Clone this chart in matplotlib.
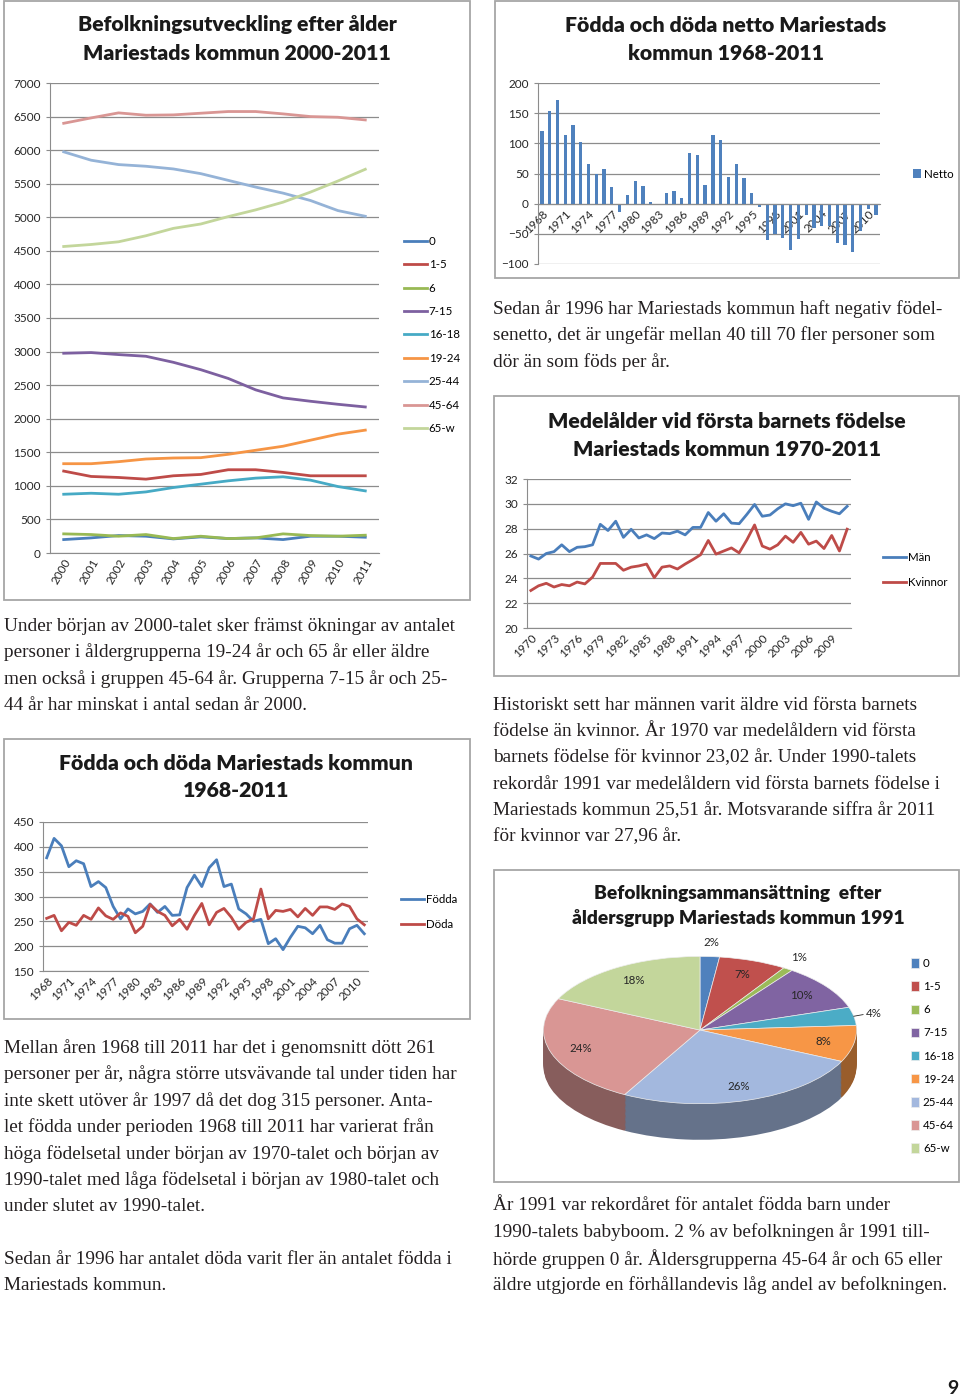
import matplotlib
matplotlib.use("Agg")
import matplotlib.pyplot as plt
from matplotlib.patches import Rectangle
import numpy as np

# --- data -------------------------------------------------------------
AGE_GROUPS = ["0", "1-5", "6", "7-15", "16-18", "19-24", "25-44", "45-64", "65-w"]
AGE_COLORS = ["#4A7EBB", "#BE4B48", "#98B954", "#7D60A0", "#46AAC5",
              "#F69545", "#95B3D7", "#D99694", "#C3D69B"]

years_pop = list(range(2000, 2012))
pop_0 = [200, 225, 260, 250, 210, 240, 215, 225, 200, 250, 250, 235]
pop_1_5 = [1220, 1140, 1125, 1100, 1150, 1170, 1240, 1240, 1200, 1150, 1150, 1150]
pop_6 = [285, 275, 250, 275, 215, 250, 215, 225, 285, 260, 250, 265]
pop_7_15 = [2975, 2985, 2955, 2930, 2840, 2730, 2600, 2430, 2310, 2260, 2215, 2175]
pop_16_18 = [875, 890, 875, 910, 975, 1025, 1075, 1115, 1135, 1085, 990, 925]
pop_19_24 = [1330, 1330, 1360, 1400, 1415, 1420, 1470, 1530, 1590, 1680, 1770, 1830]
pop_25_44 = [5975, 5850, 5785, 5760, 5720, 5650, 5550, 5450, 5360, 5250, 5100, 5015]
pop_45_64 = [6400, 6480, 6555, 6520, 6525, 6550, 6575, 6575, 6540, 6500, 6490, 6450]
pop_65_w = [4565, 4595, 4635, 4725, 4835, 4900, 5010, 5110, 5225, 5375, 5540, 5715]

years_bd = list(range(1968, 2012))
netto = [121, 154, 171, 113, 130, 103, 66, 50, 58, 27, -14, 15, 37, 29, 2, -3,
         18, 21, 9, 84, 81, 31, 114, 106, 44, 65, 42, 18, -5, -61, -50, -57,
         -76, -58, -18, -40, -37, -37, -65, -68, -80, -45, -9, -18]
fodda = [378, 417, 402, 360, 372, 366, 320, 330, 318, 280, 255, 275, 265, 270,
         285, 268, 280, 262, 263, 318, 343, 320, 358, 374, 320, 325, 275, 265,
         250, 254, 205, 215, 193, 218, 240, 237, 225, 242, 213, 206, 206, 235,
         242, 225]
doda = [256, 262, 231, 248, 242, 262, 254, 277, 261, 254, 267, 260, 227, 240,
        284, 270, 262, 241, 254, 234, 262, 286, 243, 268, 276, 258, 234, 248,
        255, 315, 255, 272, 270, 274, 259, 276, 262, 279, 279, 274, 285, 280,
        255, 243]

years_age = list(range(1970, 2012))
man = [25.8, 25.55, 26.0, 26.15, 26.7, 26.15, 26.5, 26.55, 26.7, 28.35, 27.85,
       28.6, 27.3, 27.95, 27.25, 27.5, 27.2, 27.65, 27.6, 27.8, 27.5, 28.1,
       28.1, 29.3, 28.6, 29.2, 28.45, 28.4, 29.15, 29.95, 29.0, 29.1, 29.6,
       30.0, 29.85, 30.05, 28.75, 30.15, 29.65, 29.4, 29.2, 29.8]
kvinnor = [23.02, 23.4, 23.6, 23.3, 23.5, 23.4, 23.7, 23.55, 24.1, 25.2, 25.2,
           25.2, 24.65, 24.9, 25.0, 25.15, 24.05, 24.9, 25.0, 24.75, 25.15,
           25.51, 25.9, 27.05, 25.95, 26.2, 26.45, 26.05, 27.1, 28.3, 26.6,
           26.35, 26.7, 27.4, 26.9, 27.7, 26.75, 27.0, 26.4, 27.45, 26.2, 27.96]

pie_1991 = [2, 7, 1, 10, 4, 8, 26, 24, 18]
PIE_COLORS = ["#4F81BD", "#C0504D", "#9BBB59", "#8064A2", "#4BACC6",
              "#F79646", "#A3B8DE", "#D99694", "#C3D69B"]

# --- page ---------------------------------------------------------------
W, H = 960, 1400
fig = plt.figure(figsize=(W / 100, H / 100), dpi=100)
fig.patch.set_facecolor("white")

SANS = "Lato"
SERIF = "Liberation Serif"
TXT = "#262626"
GRID = "#8c8c8c"
TICK = 8.5


def px_axes(x0, y0, x1, y1):
    return fig.add_axes([x0 / W, 1 - y1 / H, (x1 - x0) / W, (y1 - y0) / H])


def ftext(x, y, s, **kw):
    fig.text(x / W, 1 - y / H, s, **kw)


def frame(x0, y0, x1, y1):
    fig.add_artist(Rectangle((x0 / W, 1 - y1 / H), (x1 - x0) / W, (y1 - y0) / H,
                             transform=fig.transFigure, fill=False,
                             edgecolor="#a6a6a6", lw=1.3))


def title(xc, y1, y2, l1, l2, size=15.3):
    ftext(xc, y1, l1, ha="center", va="center", fontsize=size,
          fontweight="heavy", family=SANS, color="#1a1a1a")
    ftext(xc, y2, l2, ha="center", va="center", fontsize=size,
          fontweight="heavy", family=SANS, color="#1a1a1a")


def style(ax, rot=45):
    for s in ["top", "right"]:
        ax.spines[s].set_visible(False)
    ax.spines["left"].set_color(GRID)
    ax.spines["bottom"].set_color(GRID)
    ax.yaxis.grid(True, color=GRID, lw=0.9)
    ax.set_axisbelow(True)
    ax.tick_params(axis="y", length=3, color=GRID, labelsize=TICK, labelcolor=TXT)
    ax.tick_params(axis="x", length=0, labelsize=TICK, labelcolor=TXT, pad=3)
    for lab in ax.get_yticklabels():
        lab.set_family(SANS)
    plt.setp(ax.get_xticklabels(), rotation=rot, ha="right",
             rotation_mode="anchor", family=SANS)


def body(x, y0, lines, step=26.4):
    for i, ln in enumerate(lines):
        if ln:
            ftext(x, y0 + i * step, ln, ha="left", va="center", fontsize=13.9,
                  family=SERIF, color="#231f20")


def legend(ax, x, y, **kw):
    ax.legend(loc="center left", bbox_to_anchor=(x / W, 1 - y / H),
              bbox_transform=fig.transFigure, frameon=False,
              prop={"family": SANS, "size": 8.3}, handlelength=2.0,
              handletextpad=0.1, **kw)


# --- chart 1: population by age ---------------------------------------
frame(4, 1, 470, 600)
title(237, 25, 53, "Befolkningsutveckling efter ålder", "Mariestads kommun 2000-2011")
ax1 = px_axes(50, 83, 379, 553)
series = [pop_0, pop_1_5, pop_6, pop_7_15, pop_16_18, pop_19_24,
          pop_25_44, pop_45_64, pop_65_w]
for vals, lab, col in zip(series, AGE_GROUPS, AGE_COLORS):
    ax1.plot(years_pop, vals, color=col, lw=2, label=lab)
ax1.set_xlim(1999.5, 2011.5)
ax1.set_ylim(0, 7000)
ax1.set_yticks(range(0, 7001, 500))
ax1.set_xticks(years_pop)
style(ax1, rot=60)
legend(ax1, 394, 335, labelspacing=1.08)

# --- chart 2: netto bars ------------------------------------------------
frame(495, 1, 959, 278)
title(726, 25, 53, "Födda och döda netto Mariestads", "kommun 1968-2011")
ax2 = px_axes(538, 83, 880, 264)
ax2.bar(years_bd, netto, width=0.42, color="#4F81BD", label="Netto")
ax2.set_xlim(1967.5, 2011.5)
ax2.set_ylim(-100, 200)
ax2.set_yticks(range(-100, 201, 50))
ax2.set_xticks(years_bd[::3])
ax2.spines["bottom"].set_position(("data", 0))
style(ax2)
ax2.legend(loc="center left", bbox_to_anchor=(903 / W, 1 - 174 / H),
           bbox_transform=fig.transFigure, frameon=False,
           prop={"family": SANS, "size": 8.3}, handlelength=0.7,
           handleheight=0.9, handletextpad=0.2)

body(493, 309, ["Sedan år 1996 har Mariestads kommun haft negativ födel-",
                "senetto, det är ungefär mellan 40 till 70 fler personer som",
                "dör än som föds per år."])

# --- chart 3: average age at first child ------------------------------
frame(494, 396, 959, 676)
title(727, 421, 449, "Medelålder vid första barnets födelse", "Mariestads kommun 1970-2011")
ax3 = px_axes(527, 479, 851, 628)
ax3.plot(years_age, man, color="#4A7EBB", lw=2, label="Män")
ax3.plot(years_age, kvinnor, color="#BE4B48", lw=2, label="Kvinnor")
ax3.set_xlim(1969.5, 2011.5)
ax3.set_ylim(20, 32)
ax3.set_yticks(range(20, 33, 2))
ax3.set_xticks(years_age[::3])
style(ax3)
legend(ax3, 873, 570, labelspacing=1.15)

body(493, 705, ["Historiskt sett har männen varit äldre vid första barnets",
                "födelse än kvinnor. År 1970 var medelåldern vid första",
                "barnets födelse för kvinnor 23,02 år. Under 1990-talets",
                "rekordår 1991 var medelåldern vid första barnets födelse i",
                "Mariestads kommun 25,51 år. Motsvarande siffra år 2011",
                "för kvinnor var 27,96 år."])

# --- chart 4: births and deaths ----------------------------------------
body(4, 626, ["Under början av 2000-talet sker främst ökningar av antalet",
              "personer i åldergrupperna 19-24 år och 65 år eller äldre",
              "men också i gruppen 45-64 år. Grupperna 7-15 år och 25-",
              "44 år har minskat i antal sedan år 2000."])

frame(4, 739, 470, 1019)
title(236, 763, 791, "Födda och döda Mariestads kommun", "1968-2011")
ax4 = px_axes(43, 822, 368, 971)
ax4.plot(years_bd, fodda, color="#4A7EBB", lw=2, label="Födda")
ax4.plot(years_bd, doda, color="#BE4B48", lw=2, label="Döda")
ax4.set_xlim(1967.5, 2011.5)
ax4.set_ylim(150, 450)
ax4.set_yticks(range(150, 451, 50))
ax4.set_xticks(years_bd[::3])
style(ax4)
legend(ax4, 391, 912, labelspacing=1.15)

body(4, 1048, ["Mellan åren 1968 till 2011 har det i genomsnitt dött 261",
               "personer per år, några större utsvävande tal under tiden har",
               "inte skett utöver år 1997 då det dog 315 personer. Anta-",
               "let födda under perioden 1968 till 2011 har varierat från",
               "höga födelsetal under början av 1970-talet och början av",
               "1990-talet med låga födelsetal i början av 1980-talet och",
               "under slutet av 1990-talet.",
               "",
               "Sedan år 1996 har antalet döda varit fler än antalet födda i",
               "Mariestads kommun."])

# --- chart 5: 3D-looking pie -------------------------------------------
frame(494, 870, 959, 1182)
title(738, 893, 918, "Befolkningsammansättning  efter",
      "åldersgrupp Mariestads kommun 1991", size=13.8)
ax5 = px_axes(520, 950, 880, 1170)
side = [tuple(np.array(matplotlib.colors.to_rgb(c)) * 0.62) for c in PIE_COLORS]
for d in np.linspace(0.49, 0.01, 30):
    ax5.pie(pie_1991, colors=side, startangle=90, counterclock=False,
            center=(0, -d), wedgeprops={"linewidth": 0})
wedges, _ = ax5.pie(pie_1991, colors=PIE_COLORS, startangle=90,
                    counterclock=False, wedgeprops={"linewidth": 0.5,
                                                    "edgecolor": "#eeeeee"})
ax5.set_aspect("auto")
ax5.set_xlim(-1.15, 1.15)
ax5.set_ylim(-1.90, 1.087)
ax5.axis("off")

frac = np.array(pie_1991) / sum(pie_1991)
mids = np.deg2rad(90 - 360 * (np.cumsum(frac) - frac / 2))
for pct, a in zip(pie_1991, mids):
    r = 0.8 if pct >= 5 else 1.13
    ax5.text(r * np.cos(a), r * np.sin(a) * (1.05 if pct < 5 else 1), f"{pct}%",
             ha="center", va="center", fontsize=8.3, family=SANS, color=TXT)
    if pct == 4:
        ax5.plot([np.cos(a), 1.03 * np.cos(a) + 0.03],
                 [np.sin(a), np.sin(a) * 1.12], color=TXT, lw=0.6)

ax5.legend(wedges, AGE_GROUPS, loc="center left",
           bbox_to_anchor=(901 / W, 1 - 1056 / H), bbox_transform=fig.transFigure,
           frameon=False, prop={"family": SANS, "size": 8.3}, handlelength=0.7,
           handleheight=0.9, handletextpad=0.3, labelspacing=1.05)

body(493, 1206, ["År 1991 var rekordåret för antalet födda barn under",
                 "1990-talets babyboom. 2 % av befolkningen år 1991 till-",
                 "hörde gruppen 0 år. Åldersgrupperna 45-64 år och 65 eller",
                 "äldre utgjorde en förhållandevis låg andel av befolkningen."])

ftext(953, 1388, "9", ha="center", va="center", fontsize=14, fontweight="bold",
      family=SANS, color="#1a1a1a")

fig.savefig("out.png", dpi=100, facecolor="white")
